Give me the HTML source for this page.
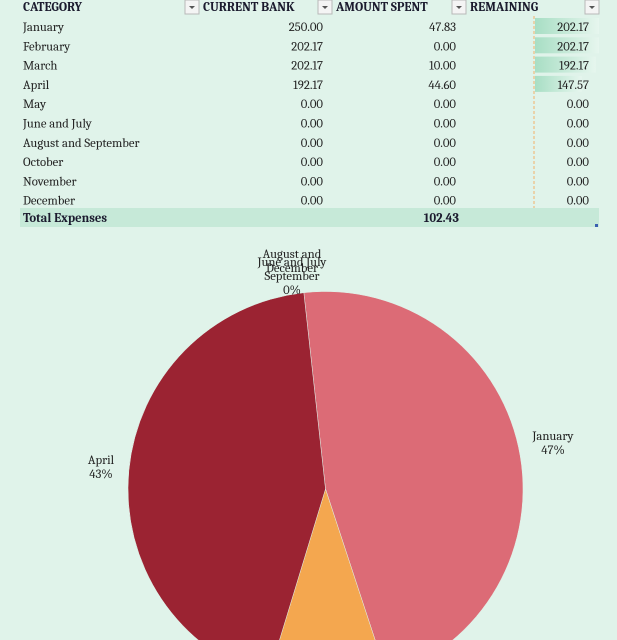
<!DOCTYPE html>
<html><head><meta charset="utf-8"><style>
html,body{margin:0;padding:0;background:#e0f3ea;overflow:hidden;width:617px;height:640px;}
svg{display:block;font-family:Cambria,"Liberation Serif",serif;overflow:hidden;}
</style></head><body>
<svg width="617" height="640" viewBox="0 0 617 640">
<rect width="617" height="640" fill="#e0f3ea"/>
<g id="table"></g>
<g id="pie"></g>
</svg>
<script>
const categories=["January","February","March","April","May","June and July","August and September","October","November","December"];
const bank=[250.00,202.17,202.17,192.17,0,0,0,0,0,0];
const spent=[47.83,0,10.00,44.60,0,0,0,0,0,0];
const remaining=[202.17,202.17,192.17,147.57,0,0,0,0,0,0];
const pctLabels=["47%","0%","10%","43%","0%","0%","0%","0%","0%","0%"];
const totalLabel="Total Expenses";
const sliceColors=["#dc6b76","#e8e8e8","#f4a74f","#9b2332","#aaa","#bbb","#ccc","#ddd","#eee","#999"];
const FS=12.7;
const NS="http://www.w3.org/2000/svg";
function mk(tag,attrs,parent,text){const e=document.createElementNS(NS,tag);for(const k in attrs)e.setAttribute(k,attrs[k]);if(text!==undefined)e.textContent=text;parent.appendChild(e);return e;}
const T=document.getElementById('table');
const heads=[["CATEGORY",23,185],["CURRENT BANK",203,318],["AMOUNT SPENT",336,452],["REMAINING",470,585]];
heads.forEach(h=>{
 const t=mk('text',{x:h[1],y:11,'font-size':FS,'font-weight':'bold',fill:'#1b1b2e'},T,h[0]);
 
 
 const b=mk('g',{},T);
 
 
 mk('rect',{x:h[2],y:0,width:14,height:14,fill:'#f4f4f4',stroke:'#b8b8b8'},b);
 mk('path',{d:`M${h[2]+4} 6 h6 l-3 3z`,fill:'#555'},b);
});
mk('line',{x1:534,y1:16,x2:534,y2:208,stroke:'#f2b06a','stroke-dasharray':'3,2','stroke-width':1},T);
const defs=mk('defs',{},T);
const lg=mk('linearGradient',{id:'bar',x1:0,x2:1,y1:0,y2:0},defs);
mk('stop',{offset:0,'stop-color':'#a8dec4'},lg);mk('stop',{offset:1,'stop-color':'#e6f6ee'},lg);
const maxRem=Math.max(...remaining);
const fmt=v=>v.toFixed(2);
categories.forEach((c,i)=>{
 const y=27+i*19.3;
 const row=mk('g',{},T);
 
 
 if(remaining[i]>0){const bar=mk('rect',{x:535,y:y-9,width:64*remaining[i]/maxRem,height:16,fill:'url(#bar)'},row);
  
  }
 mk('text',{x:23,y:y+4,'font-size':FS,fill:'#222'},row,c);
 mk('text',{x:323,y:y+4,'font-size':FS,fill:'#222','text-anchor':'end'},row,fmt(bank[i]));
 mk('text',{x:456,y:y+4,'font-size':FS,fill:'#222','text-anchor':'end'},row,fmt(spent[i]));
 mk('text',{x:589,y:y+4,'font-size':FS,fill:'#222','text-anchor':'end'},row,fmt(remaining[i]));
});
const tr=mk('g',{},T);


mk('rect',{x:20,y:208,width:579,height:19,fill:'#c6e9d8'},tr);
mk('text',{x:23,y:222,'font-size':FS,'font-weight':'bold',fill:'#1b1b2e'},tr,totalLabel);
mk('text',{x:459,y:222,'font-size':FS,'font-weight':'bold',fill:'#1b1b2e','text-anchor':'end'},tr,fmt(spent.reduce((a,b)=>a+b,0)));
mk('rect',{x:595,y:224,width:3,height:3,fill:'#3a5fb0'},tr);
const P=document.getElementById('pie');
const cx=325.5,cy=489,r=197.5;
const total=spent.reduce((a,b)=>a+b,0);
let ang=-6.3*Math.PI/180;
const pt=a=>[cx+r*Math.sin(a),cy-r*Math.cos(a)];
spent.forEach((v,i)=>{
 if(v<=0)return;
 const a2=ang+v/total*2*Math.PI;
 const [x1,y1]=pt(ang),[x2,y2]=pt(a2);
 const large=(a2-ang)>Math.PI?1:0;
 const s=mk('path',{d:`M${cx} ${cy} L${x1} ${y1} A${r} ${r} 0 ${large} 1 ${x2} ${y2}Z`,fill:sliceColors[i],stroke:'#e0f3ea','stroke-width':0.5},P);
 
 
 ang=a2;
});
function label(lines,x,y,name){const g=mk('text',{x:x,'font-size':FS,fill:'#222','text-anchor':'middle'},P);
 
 
 lines.forEach((l,k)=>mk('tspan',{x:x,y:y+k*14},g,l));}
label(["January",pctLabels[0]],553,440,'label-january');
label(["April",pctLabels[3]],101,464,'label-april');
label(["June and July","September","0%"],292,266,'label-zero-cluster');
label(["August and","December"],292,258,'label-zero-overlap');
</script>
</body></html>
